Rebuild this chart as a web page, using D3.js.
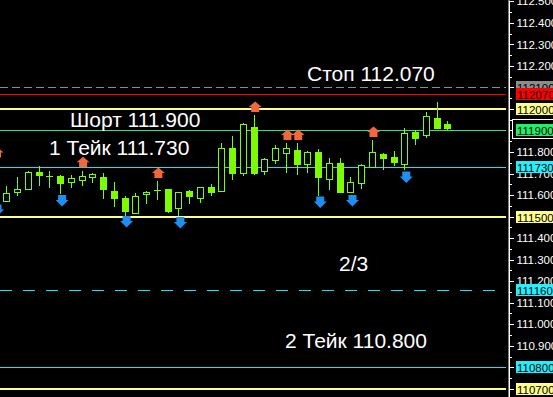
<!DOCTYPE html>
<html>
<head>
<meta charset="utf-8">
<script src="https://cdn.jsdelivr.net/npm/d3@7"></script>
<style>
html, body { margin: 0; padding: 0; background: #000; overflow: hidden; }
svg { display: block; }
text { font-family: "Liberation Sans", Arial, sans-serif; }
</style>
</head>
<body>
<svg id="chart" width="553" height="397"></svg>
<script>
// candles, oldest first (index 0 sits just off the left edge)
var opens  = [111.660, 111.574, 111.616, 111.627, 111.707, 111.690, 111.689, 111.660, 111.669, 111.686, 111.686,
              111.619, 111.587, 111.516, 111.607, 111.624, 111.628, 111.539, 111.619, 111.585, 111.638,
              111.619, 111.817, 111.704, 111.915, 111.713, 111.763, 111.797, 111.810, 111.745, 111.800,
              111.676, 111.748, 111.616, 111.658, 111.729, 111.791, 111.777, 111.746, 111.895, 111.878,
              111.958, 111.930];
var highs  = [111.770, 111.642, 111.683, 111.712, 111.735, 111.712, 111.693, 111.693, 111.712, 111.704, 111.701,
              111.662, 111.596, 111.611, 111.619, 111.666, 111.628, 111.616, 111.624, 111.636, 111.650,
              111.841, 111.875, 111.936, 111.972, 111.774, 111.833, 111.841, 111.843, 111.805, 111.814,
              111.771, 111.771, 111.683, 111.745, 111.856, 111.797, 111.805, 111.910, 111.902, 111.986,
              112.033, 111.944];
var lows   = [111.550, 111.574, 111.601, 111.627, 111.647, 111.639, 111.611, 111.639, 111.647, 111.661, 111.588,
              111.549, 111.508, 111.516, 111.562, 111.582, 111.520, 111.508, 111.562, 111.569, 111.601,
              111.619, 111.673, 111.693, 111.698, 111.698, 111.751, 111.709, 111.698, 111.709, 111.601,
              111.630, 111.616, 111.616, 111.632, 111.729, 111.720, 111.740, 111.720, 111.839, 111.871,
              111.913, 111.906];
var closes = [111.580, 111.608, 111.627, 111.706, 111.693, 111.690, 111.658, 111.678, 111.689, 111.698, 111.627,
              111.585, 111.528, 111.597, 111.616, 111.624, 111.528, 111.616, 111.597, 111.636, 111.616,
              111.817, 111.704, 111.930, 111.704, 111.768, 111.817, 111.817, 111.745, 111.799, 111.686,
              111.748, 111.616, 111.660, 111.739, 111.799, 111.772, 111.754, 111.887, 111.867, 111.966,
              111.913, 111.913];

// fractal arrows: candle index and price of the arrow centre
var upArrowIdx     = [0, 8, 15, 24, 27, 28, 35];
var upArrowPrice   = [111.798, 111.752, 111.703, 112.009, 111.879, 111.879, 111.893];
var downArrowIdx   = [0, 6, 12, 17, 30, 33, 38];
var downArrowPrice = [111.531, 111.575, 111.477, 111.473, 111.568, 111.575, 111.684];

// horizontal levels
var levelPrices = [112.100, 112.070, 112.000, 111.900, 111.730, 111.500, 111.160, 110.800, 110.700];
var levelLabels = ["112100", "112070", "112000", "111900", "111730", "111500", "111160", "110800", "110700"];

var priceTicks = [110.7, 110.8, 110.9, 111.0, 111.1, 111.2, 111.3, 111.4, 111.5, 111.6,
                  111.7, 111.8, 111.9, 112.0, 112.1, 112.2, 112.3, 112.4, 112.5];

var notes = ["Стоп 112.070", "Шорт 111.900", "1 Тейк 111.730", "2/3", "2 Тейк 110.800"];

// ---- layout / styles ----
var levelStyle = [
  { color: "#8c8c8c", box: "#8c8c8c", w: 1, dash: "8,4" },
  { color: "#ff0000", box: "#ff0000", w: 1 },
  { color: "#ffff8c", box: "#ffff8c", w: 2 },
  { color: "#3ddc84", box: "#1ef06a", w: 1 },
  { color: "#1ee0f0", box: "#22f0ff", w: 1 },
  { color: "#ffff8c", box: "#ffff8c", w: 2 },
  { color: "#1ee0f0", box: "#22f0ff", w: 1, dash: "12,11" },
  { color: "#1ee0f0", box: "#22f0ff", w: 1 },
  { color: "#ffff8c", box: "#ffff8c", w: 2 }
];
var notePos = [[307, 80.5], [70, 126.5], [49, 155], [339, 271], [285, 348]];
var candleColor = "#7cfc00";

var svg = d3.select("#chart");
svg.append("rect").attr("width", 553).attr("height", 397).attr("fill", "#000");

var y = d3.scaleLinear().domain([112.506, 110.662]).range([0, 397]);
var x = d3.scaleLinear().domain([0, 42]).range([-4.46, 447.3]);
var axisX = 508.5, lineEnd = 506;

// level lines
svg.append("g").selectAll("line")
  .data(levelPrices)
  .enter().append("line")
  .attr("x1", 0).attr("x2", lineEnd)
  .attr("y1", function(d, i) { return levelStyle[i].w == 2 ? Math.round(y(d)) : Math.round(y(d)) + 0.5; })
  .attr("y2", function(d, i) { return levelStyle[i].w == 2 ? Math.round(y(d)) : Math.round(y(d)) + 0.5; })
  .attr("stroke", function(d, i) { return levelStyle[i].color; })
  .attr("stroke-width", function(d, i) { return levelStyle[i].w; })
  .attr("stroke-dasharray", function(d, i) { return levelStyle[i].dash || null; })
  .attr("shape-rendering", "crispEdges");

// candles
var candles = d3.range(opens.length).map(function(i) {
  return { i: i, o: opens[i], h: highs[i], l: lows[i], c: closes[i] };
});
var cg = svg.append("g").attr("shape-rendering", "crispEdges");
candles.forEach(function(d) {
  var cx = Math.round(x(d.i));
  cg.append("line")
    .attr("x1", cx + 0.5).attr("x2", cx + 0.5)
    .attr("y1", Math.round(y(d.h))).attr("y2", Math.round(y(d.l)) + 1)
    .attr("stroke", candleColor);
  var top = Math.round(y(Math.max(d.o, d.c)));
  var bot = Math.round(y(Math.min(d.o, d.c)));
  if (d.c > d.o) {
    // bullish: hollow
    cg.append("rect")
      .attr("x", cx - 3 + 0.5).attr("y", top + 0.5)
      .attr("width", 6).attr("height", Math.max(bot - top, 1))
      .attr("fill", "#000").attr("stroke", candleColor);
  } else {
    cg.append("rect")
      .attr("x", cx - 3).attr("y", top)
      .attr("width", 7).attr("height", Math.max(bot - top + 1, 1))
      .attr("fill", candleColor);
  }
});

// arrows
var upPath = "M0,-5.5 L6.5,0 L4,0 L4,5 L-4,5 L-4,0 L-6.5,0 Z";
var downPath = "M-4,-5.5 L4,-5.5 L4,-0.5 L6.5,-0.5 L0,6 L-6.5,-0.5 L-4,-0.5 Z";
svg.append("g").selectAll("path")
  .data(upArrowIdx)
  .enter().append("path")
  .attr("d", upPath)
  .attr("transform", function(d, k) { return "translate(" + (x(d) + 1.5) + "," + y(upArrowPrice[k]) + ")"; })
  .attr("fill", "#f4663c");
svg.append("g").selectAll("path")
  .data(downArrowIdx)
  .enter().append("path")
  .attr("d", downPath)
  .attr("transform", function(d, k) { return "translate(" + (x(d) + 2) + "," + y(downArrowPrice[k]) + ")"; })
  .attr("fill", "#1e8ff0");

// text notes
svg.append("g").selectAll("text")
  .data(notes)
  .enter().append("text")
  .attr("x", function(d, i) { return notePos[i][0]; })
  .attr("y", function(d, i) { return notePos[i][1]; })
  .attr("fill", "#fff")
  .attr("font-size", 21)
  .text(function(d) { return d; });

// price axis
var minorTicks = [];
priceTicks.forEach(function(t) { minorTicks.push(t + 0.05); });
svg.append("g")
  .attr("transform", "translate(" + axisX + ",0)")
  .call(d3.axisRight(y).tickValues(minorTicks).tickSize(3).tickSizeOuter(0).tickFormat(""))
  .call(function(g) { g.selectAll("line, path").attr("stroke", "#fff").attr("shape-rendering", "crispEdges"); });
var ax = svg.append("g")
  .attr("transform", "translate(" + axisX + ",0)")
  .call(d3.axisRight(y).tickValues(priceTicks).tickSize(5).tickPadding(3).tickSizeOuter(0).tickFormat(d3.format(".3f")));
ax.select(".domain").attr("stroke", "#fff").attr("d", "M0.5,0V397");
ax.selectAll("line").attr("stroke", "#fff").attr("shape-rendering", "crispEdges");
ax.selectAll("text").attr("fill", "#fff").attr("font-size", 11.5)
  .attr("font-family", "'Liberation Sans', Arial, sans-serif");

// current price frame
svg.append("rect")
  .attr("x", 512.5).attr("y", 119.5).attr("width", 45).attr("height", 19)
  .attr("fill", "#000").attr("stroke", "#fff");

// level price boxes
var boxes = svg.append("g").selectAll("g")
  .data(levelPrices)
  .enter().append("g")
  .attr("transform", function(d) { return "translate(516," + (Math.round(y(d)) - 6) + ")"; });
boxes.append("rect")
  .attr("width", 40).attr("height", 12)
  .attr("fill", function(d, i) { return levelStyle[i].box; });
boxes.append("text")
  .attr("x", 1).attr("y", 10.5)
  .attr("font-size", 11.5)
  .attr("fill", "#000")
  .text(function(d, i) { return levelLabels[i]; });
</script>
</body>
</html>
